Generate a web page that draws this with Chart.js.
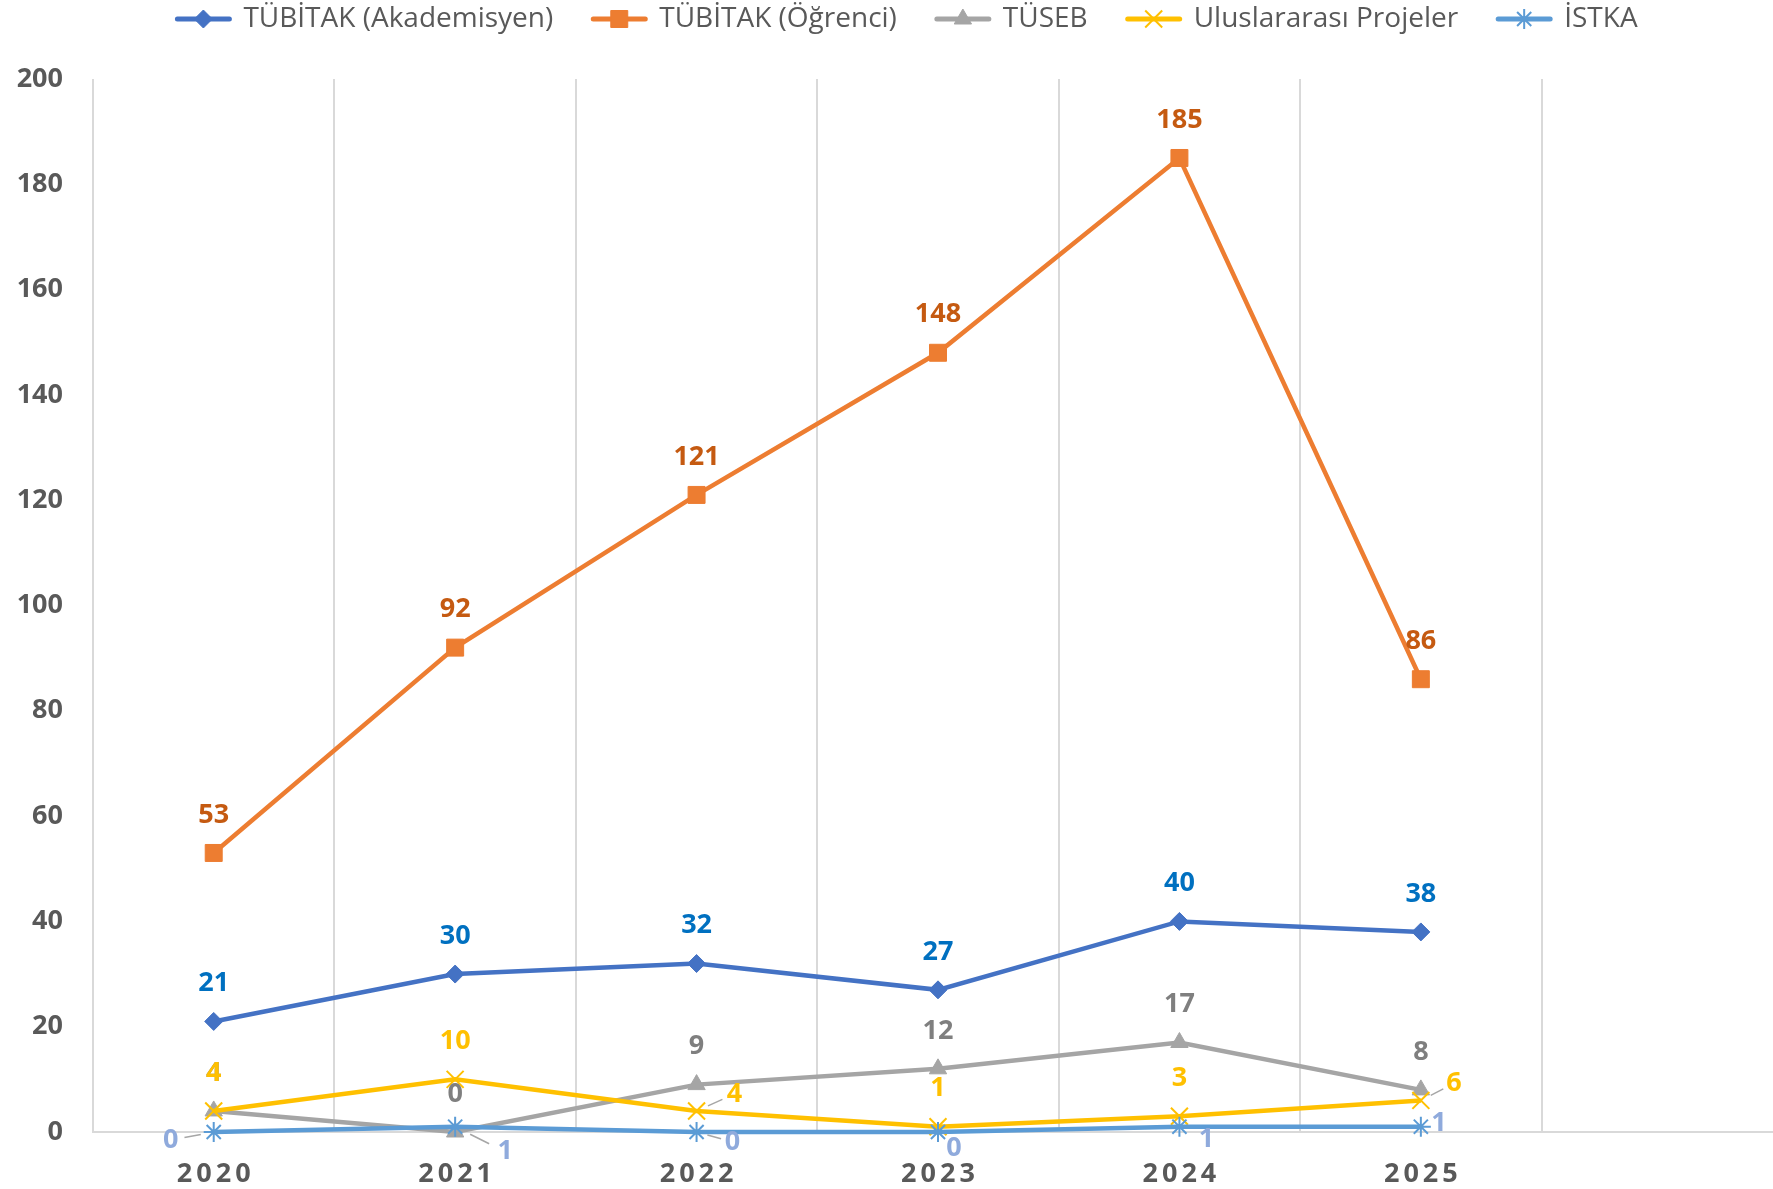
<!DOCTYPE html>
<html>
<head>
<meta charset="utf-8">
<script src="https://cdn.jsdelivr.net/npm/chart.js@4.4.0/dist/chart.umd.min.js"></script>
<style>
  html, body { margin: 0; background: #fff; overflow: hidden; }
  /* plot runs a little past the right edge, like the original */
  #wrap { width: 1783px; height: 1189px; }
</style>
</head>
<body>
<div id="wrap"><canvas id="projeChart"></canvas></div>
<script>
// yıllar (son kategori boş, Excel'deki gibi)
const years = ['2020', '2021', '2022', '2023', '2024', '2025', ''];
const seriesNames = ['TÜBİTAK (Akademisyen)', 'TÜBİTAK (Öğrenci)', 'TÜSEB', 'Uluslararası Projeler', 'İSTKA'];

const akademisyen = [21, 30, 32, 27, 40, 38];
const ogrenci = [53, 92, 121, 148, 185, 86];
const tuseb = [4, 0, 9, 12, 17, 8];
const uluslararasi = [4, 10, 4, 1, 3, 6];
const istka = [0, 1, 0, 0, 1, 1];

const seriesData = [akademisyen, ogrenci, tuseb, uluslararasi, istka];

const colors = ['#4472C4', '#ED7D31', '#A5A5A5', '#FFC000', '#5B9BD5'];
const labelColors = ['#0070C0', '#C55A11', '#7F7F7F', '#FFC000', '#8FAADC'];
const markers = ['rectRot', 'rect', 'triangle', 'crossRot', 'star'];
const markerSize = [9, 12, 10, 12, 10];

// label offsets that differ from "above the point" [dx, dy, leader line]
const labelShift = {
    3: { 2: [38, -17, true], 5: [33, -17, true] },
    4: { 0: [-43, 8, true], 1: [50, 25, true], 2: [36, 10, true], 3: [16, 16], 4: [27, 13], 5: [18, -3] }
};

const pointLabels = {
    id: 'pointLabels',
    afterDatasetsDraw(chart) {
        const ctx = chart.ctx;
        ctx.save();
        ctx.font = 'bold 27px "Open Sans"';
        ctx.textAlign = 'center';
        ctx.textBaseline = 'middle';
        chart.data.datasets.forEach((ds, i) => {
            chart.getDatasetMeta(i).data.forEach((pt, j) => {
                const s = (labelShift[i] && labelShift[i][j]) || [0, -38];
                const x = pt.x + s[0], y = pt.y + s[1];
                if (s[2]) {
                    ctx.strokeStyle = '#A6A6A6';
                    ctx.lineWidth = 1.5;
                    ctx.beginPath();
                    ctx.moveTo(pt.x + s[0] * 0.3, pt.y + s[1] * 0.3);
                    ctx.lineTo(pt.x + s[0] * 0.68, pt.y + s[1] * 0.68);
                    ctx.stroke();
                }
                ctx.fillStyle = labelColors[i];
                ctx.fillText(ds.data[j], x, y);
            });
        });
        ctx.restore();
    }
};

// year labels with letter spacing
const yearLabels = {
    id: 'yearLabels',
    afterDraw(chart) {
        const ctx = chart.ctx, xs = chart.scales.x;
        ctx.save();
        ctx.font = 'bold 27px "Open Sans"';
        ctx.fillStyle = '#595959';
        ctx.textAlign = 'center';
        ctx.textBaseline = 'middle';
        ctx.letterSpacing = '4px';
        years.forEach((yr, i) => {
            if (yr) ctx.fillText(yr, xs.getPixelForValue(i) + 2, xs.top + 42);
        });
        ctx.restore();
    }
};

// legend: taller box, shifted a bit right, marker on top of the line
const legendMarkers = {
    id: 'legendMarkers',
    beforeLayout(chart) {
        const lg = chart.legend;
        if (lg && !lg._fitWrapped) {
            const fit = lg.fit;
            lg.fit = function () { fit.call(this); this.height = 114; };
            lg._fitWrapped = true;
        }
    },
    afterLayout(chart) {
        if (chart.legend) chart.legend.left += 32;
    },
    afterDraw(chart) {
        const lg = chart.legend, ctx = chart.ctx;
        if (!lg || !Chart.helpers || !Chart.helpers.drawPoint) return;
        lg.legendHitBoxes.forEach((b, i) => {
            const k = lg.legendItems[i].datasetIndex;
            ctx.save();
            ctx.fillStyle = colors[k];
            ctx.strokeStyle = colors[k];
            ctx.lineWidth = k >= 3 ? 2 : 1;
            Chart.helpers.drawPoint(ctx, { pointStyle: markers[k], radius: markerSize[k], borderWidth: ctx.lineWidth, rotation: 0 },
                b.left + 26, b.top + b.height / 2);
            ctx.restore();
        });
    }
};

const ctx = document.getElementById('projeChart').getContext('2d');
const projeChart = new Chart(ctx, {
    type: 'line',
    data: {
        labels: years,
        datasets: seriesNames.map((name, i) => ({
            label: name,
            data: seriesData[i],
            borderColor: colors[i],
            backgroundColor: colors[i],
            borderWidth: 4.5,
            pointStyle: markers[i],
            pointRadius: markerSize[i],
            pointBorderWidth: i >= 3 ? 2 : 1,
            pointBackgroundColor: colors[i],
            pointBorderColor: colors[i],
            tension: 0,
            clip: false,
            order: 4 - i
        }))
    },
    options: {
        responsive: true,
        maintainAspectRatio: false,
        animation: false,
        layout: { autoPadding: false, padding: { top: -35, left: 0, right: 0, bottom: 0 } },
        scales: {
            x: {
                offset: true,
                grid: {
                    offset: true,
                    drawTicks: false,
                    lineWidth: 2,
                    color: c => (c.index === undefined ? 'rgba(0,0,0,0)' : '#D9D9D9')
                },
                border: { color: '#D9D9D9', width: 2 },
                ticks: { display: false },
                afterFit: s => { s.height = 57; }
            },
            y: {
                min: 0,
                max: 200,
                ticks: {
                    stepSize: 20,
                    padding: 30,
                    color: '#595959',
                    font: { family: 'Open Sans', size: 27, weight: 'bold' }
                },
                grid: { display: false, drawTicks: false },
                border: { display: false },
                afterFit: s => { s.width = 93; }
            }
        },
        plugins: {
            legend: {
                position: 'top',
                labels: {
                    usePointStyle: true,
                    pointStyleWidth: 52,
                    padding: 40,
                    color: '#595959',
                    font: { family: 'Open Sans', size: 28 },
                    sort: (a, b) => a.datasetIndex - b.datasetIndex,
                    generateLabels: function (chart) {
                        return Chart.defaults.plugins.legend.labels.generateLabels(chart).map(item =>
                            Object.assign(item, { pointStyle: 'line', lineWidth: 5, lineCap: 'round', strokeStyle: colors[item.datasetIndex] }));
                    }
                }
            },
            tooltip: { enabled: false }
        }
    },
    plugins: [pointLabels, yearLabels, legendMarkers]
});
</script>
</body>
</html>
